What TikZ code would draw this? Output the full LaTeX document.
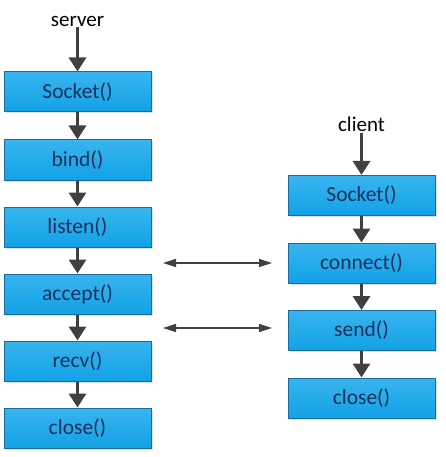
\documentclass[tikz,border=0pt]{standalone}
\usepackage{fontspec}
\setmainfont{Carlito}
\usetikzlibrary{arrows.meta,shadows}
\definecolor{boxfill}{HTML}{12A2E6}
\definecolor{boxtop}{HTML}{38B4EE}
\definecolor{boxline}{HTML}{1A6C9C}
\definecolor{boxtext}{HTML}{1B2F5C}
\definecolor{arrgray}{HTML}{404040}

\begin{document}
\begin{tikzpicture}[
    x=1pt, y=-1pt,
    box/.style={draw=boxline, line width=1pt, top color=boxtop, bottom color=boxfill,
        drop shadow={shadow xshift=1.5pt, shadow yshift=-1.5pt, opacity=0.25},
        minimum width=147pt, minimum height=40pt, inner sep=0pt,
        text=boxtext, font=\fontsize{21.5}{24}\selectfont},
    lbl/.style={font=\fontsize{21}{24}\selectfont, text=black, inner sep=1pt},
    flow/.style={draw=arrgray, line width=3.2pt, -{Triangle[length=14pt,width=17pt]}},
    link/.style={draw=arrgray, line width=1.2pt, {Triangle[length=13pt,width=8pt]}-{Triangle[length=13pt,width=8pt]}}
]
  \useasboundingbox (0,0) rectangle (445,457);

  % --- SERVER ---
  \node[lbl] (server) at (77.5,21) {server};
  \node[box] (ssocket) at (77.5,92) {Socket()};
  \node[box] (sbind)   at (77.5,160) {bind()};
  \node[box] (slisten) at (77.5,227) {listen()};
  \node[box] (saccept) at (77.5,294) {accept()};
  \node[box] (srecv)   at (77.5,361) {recv()};
  \node[box] (sclose)  at (77.5,428) {close()};

  % --- CLIENT ---
  \node[lbl] (client) at (361.5,124) {client};
  \node[box] (csocket)  at (361.5,195.5) {Socket()};
  \node[box] (cconnect) at (361.5,263) {connect()};
  \node[box] (csend)    at (361.5,330.5) {send()};
  \node[box] (cclose)   at (361.5,398) {close()};

  % --- DRAWING EDGES ---
  \draw[flow] (server.south) -- (server.south |- ssocket.north);
  \draw[flow] (ssocket) -- (sbind);
  \draw[flow] (sbind) -- (slisten);
  \draw[flow] (slisten) -- (saccept);
  \draw[flow] (saccept) -- (srecv);
  \draw[flow] (srecv) -- (sclose);

  \draw[flow] (client.south) -- (client.south |- csocket.north);
  \draw[flow] (csocket) -- (cconnect);
  \draw[flow] (cconnect) -- (csend);
  \draw[flow] (csend) -- (cclose);

  % connection arrows
  \coordinate (l1) at (163,263);
  \coordinate (r1) at (272,263);
  \coordinate (l2) at (163,328);
  \coordinate (r2) at (272,328);
  \draw[link] (l1) -- (r1);
  \draw[link] (l2) -- (r2);
\end{tikzpicture}
\end{document}
